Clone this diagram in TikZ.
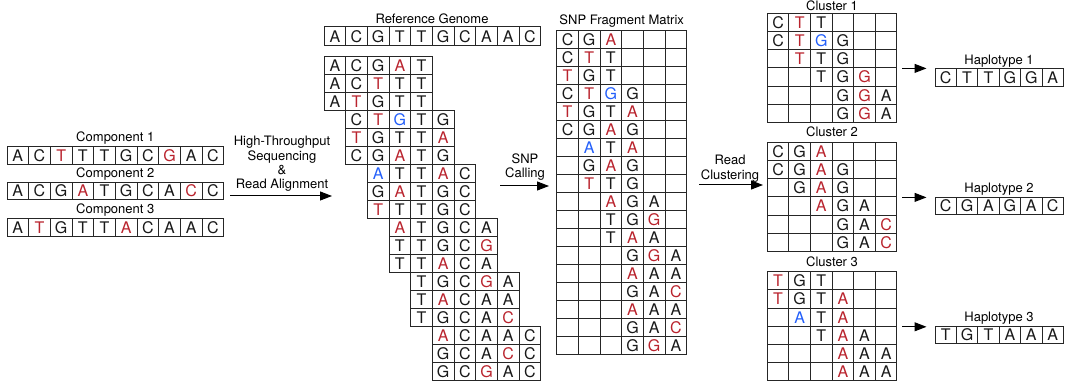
\documentclass[tikz,border=0pt]{standalone}
\usepackage{fontspec}
\setmainfont{TeX Gyre Heros}
\usetikzlibrary{arrows.meta}

\definecolor{nk}{RGB}{25,25,25}
\definecolor{nr}{RGB}{185,35,45}
\definecolor{nb}{RGB}{35,95,250}

% one row of bases: [extra], name, left edge, centre y, cell width, letter/colour list
\newcommand\baserow[6][]{%
  \foreach \ltr/\clr [count=\k] in {#6}
    \node[cell,minimum width=#5pt,#1,text=\clr] (#2-\k) at ({#3+(\k-0.5)*#5},#4) {\ltr};%
}

\begin{document}
\begin{tikzpicture}[x=1pt,y=-1pt,
  cell/.style={draw=black!85,line width=1pt,minimum height=18pt,inner sep=0pt,font=\fontsize{16}{16}\selectfont},
  lbl/.style={font=\fontsize{13}{14.3}\selectfont,inner sep=0pt,text height=9.3pt,text depth=0pt},
  note/.style={font=\fontsize{13}{14.3}\selectfont,inner sep=0pt,align=center},
  arr/.style={line width=1pt,-{Triangle[length=12pt,width=9pt]}}]
  \useasboundingbox (0,0) rectangle (1068,387);

  % components
  \node[lbl] (comp1) at (115.3,137) {Component 1};
  \baserow[minimum height=17.5pt]{c1}{7}{155.3}{21.67}{A/nk,C/nk,T/nr,T/nk,T/nk,G/nk,C/nk,G/nr,A/nk,C/nk}
  \node[lbl] (comp2) at (115.3,173) {Component 2};
  \baserow[minimum height=17.5pt]{c2}{7}{191}{21.67}{A/nk,C/nk,G/nk,A/nr,T/nk,G/nk,C/nk,A/nk,C/nr,C/nk}
  \node[lbl] (comp3) at (115.3,209) {Component 3};
  \baserow[minimum height=17.5pt]{c3}{7}{227.5}{21.67}{A/nk,T/nr,G/nk,T/nk,T/nk,A/nr,C/nk,A/nk,A/nk,C/nk}

  \coordinate (seqA) at (230,196);
  \coordinate (seqB) at (332,196);
  \draw[arr] (seqA) -- (seqB);
  \node[note] (hts) at (282,164) {High-Throughput\\Sequencing\\\&\\Read Alignment};

  % reference and aligned reads
  \node[lbl] (reflbl) at (432,19) {Reference Genome};
  \baserow[minimum height=19pt]{ref}{324}{36.5}{21.67}{A/nk,C/nk,G/nk,T/nk,T/nk,G/nk,C/nk,A/nk,A/nk,C/nk}

  \baserow{r1}{324}{65.7}{21.67}{A/nk,C/nk,G/nk,A/nr,T/nk}
  \baserow{r2}{324}{83.7}{21.67}{A/nk,C/nk,T/nr,T/nk,T/nk}
  \baserow{r3}{324}{101.7}{21.67}{A/nk,T/nr,G/nk,T/nk,T/nk}
  \baserow{r4}{324+21.67}{119.7}{21.67}{C/nk,T/nr,G/nb,T/nk,G/nk}
  \baserow{r5}{324+21.67}{137.7}{21.67}{T/nr,G/nk,T/nk,T/nk,A/nr}
  \baserow{r6}{324+21.67}{155.7}{21.67}{C/nk,G/nk,A/nr,T/nk,G/nk}
  \baserow{r7}{324+2*21.67}{173.7}{21.67}{A/nb,T/nk,T/nk,A/nr,C/nk}
  \baserow{r8}{324+2*21.67}{191.7}{21.67}{G/nk,A/nr,T/nk,G/nk,C/nk}
  \baserow{r9}{324+2*21.67}{209.7}{21.67}{T/nr,T/nk,T/nk,G/nk,C/nk}
  \baserow{r10}{324+3*21.67}{227.7}{21.67}{A/nr,T/nk,G/nk,C/nk,A/nk}
  \baserow{r11}{324+3*21.67}{245.7}{21.67}{T/nk,T/nk,G/nk,C/nk,G/nr}
  \baserow{r12}{324+3*21.67}{263.7}{21.67}{T/nk,T/nk,A/nr,C/nk,A/nk}
  \baserow{r13}{324+4*21.67}{281.7}{21.67}{T/nk,G/nk,C/nk,G/nr,A/nk}
  \baserow{r14}{324+4*21.67}{299.7}{21.67}{T/nk,A/nr,C/nk,A/nk,A/nk}
  \baserow{r15}{324+4*21.67}{317.7}{21.67}{T/nk,G/nk,C/nk,A/nk,C/nr}
  \baserow{r16}{324+5*21.67}{335.7}{21.67}{A/nr,C/nk,A/nk,A/nk,C/nk}
  \baserow{r17}{324+5*21.67}{353.7}{21.67}{G/nk,C/nk,A/nk,C/nr,C/nk}
  \baserow{r18}{324+5*21.67}{371.7}{21.67}{G/nk,C/nk,G/nr,A/nk,C/nk}

  \coordinate (callA) at (500,186);
  \coordinate (callB) at (549,186);
  \draw[arr] (callA) -- (callB);
  \node[note] (call) at (525,167.3) {SNP\\Calling};

  % fragment matrix
  \node[lbl] (snplbl) at (621.7,20) {SNP Fragment Matrix};
  \baserow{s1}{556.7}{39.7}{21.67}{C/nk,G/nk,A/nr,{}/nk,{}/nk,{}/nk}
  \baserow{s2}{556.7}{57.7}{21.67}{C/nk,T/nr,T/nk,{}/nk,{}/nk,{}/nk}
  \baserow{s3}{556.7}{75.7}{21.67}{T/nr,G/nk,T/nk,{}/nk,{}/nk,{}/nk}
  \baserow{s4}{556.7}{93.7}{21.67}{C/nk,T/nr,G/nb,G/nk,{}/nk,{}/nk}
  \baserow{s5}{556.7}{111.7}{21.67}{T/nr,G/nk,T/nk,A/nr,{}/nk,{}/nk}
  \baserow{s6}{556.7}{129.7}{21.67}{C/nk,G/nk,A/nr,G/nk,{}/nk,{}/nk}
  \baserow{s7}{556.7}{147.7}{21.67}{{}/nk,A/nb,T/nk,A/nr,{}/nk,{}/nk}
  \baserow{s8}{556.7}{165.7}{21.67}{{}/nk,G/nk,A/nr,G/nk,{}/nk,{}/nk}
  \baserow{s9}{556.7}{183.7}{21.67}{{}/nk,T/nr,T/nk,G/nk,{}/nk,{}/nk}
  \baserow{s10}{556.7}{201.7}{21.67}{{}/nk,{}/nk,A/nr,G/nk,A/nk,{}/nk}
  \baserow{s11}{556.7}{219.7}{21.67}{{}/nk,{}/nk,T/nk,G/nk,G/nr,{}/nk}
  \baserow{s12}{556.7}{237.7}{21.67}{{}/nk,{}/nk,T/nk,A/nr,A/nk,{}/nk}
  \baserow{s13}{556.7}{255.7}{21.67}{{}/nk,{}/nk,{}/nk,G/nk,G/nr,A/nk}
  \baserow{s14}{556.7}{273.7}{21.67}{{}/nk,{}/nk,{}/nk,A/nr,A/nk,A/nk}
  \baserow{s15}{556.7}{291.7}{21.67}{{}/nk,{}/nk,{}/nk,G/nk,A/nk,C/nr}
  \baserow{s16}{556.7}{309.7}{21.67}{{}/nk,{}/nk,{}/nk,A/nr,A/nk,A/nk}
  \baserow{s17}{556.7}{327.7}{21.67}{{}/nk,{}/nk,{}/nk,G/nk,A/nk,C/nr}
  \baserow{s18}{556.7}{345.7}{21.67}{{}/nk,{}/nk,{}/nk,G/nk,G/nr,A/nk}

  \coordinate (clusA) at (699,185);
  \coordinate (clusB) at (763,185);
  \draw[arr] (clusA) -- (clusB);
  \node[note] (clus) at (730,168.8) {Read\\Clustering};

  % clusters
  \node[lbl] (k1lbl) at (832,5.5) {Cluster 1};
  \baserow[minimum height=18.2pt]{ka1}{767.3}{22.4}{21.6}{C/nk,T/nr,T/nk,{}/nk,{}/nk,{}/nk}
  \baserow[minimum height=18.2pt]{ka2}{767.3}{40.6}{21.6}{C/nk,T/nr,G/nb,G/nk,{}/nk,{}/nk}
  \baserow[minimum height=18.2pt]{ka3}{767.3}{58.8}{21.6}{{}/nk,T/nr,T/nk,G/nk,{}/nk,{}/nk}
  \baserow[minimum height=18.2pt]{ka4}{767.3}{77}{21.6}{{}/nk,{}/nk,T/nk,G/nk,G/nr,{}/nk}
  \baserow[minimum height=18.2pt]{ka5}{767.3}{95.2}{21.6}{{}/nk,{}/nk,{}/nk,G/nk,G/nr,A/nk}
  \baserow[minimum height=18.2pt]{ka6}{767.3}{113.4}{21.6}{{}/nk,{}/nk,{}/nk,G/nk,G/nr,A/nk}

  \node[lbl] (k2lbl) at (832,132.3) {Cluster 2};
  \baserow[minimum height=18.2pt]{kb1}{767.3}{151.4}{21.6}{C/nk,G/nk,A/nr,{}/nk,{}/nk,{}/nk}
  \baserow[minimum height=18.2pt]{kb2}{767.3}{169.6}{21.6}{C/nk,G/nk,A/nr,G/nk,{}/nk,{}/nk}
  \baserow[minimum height=18.2pt]{kb3}{767.3}{187.8}{21.6}{{}/nk,G/nk,A/nr,G/nk,{}/nk,{}/nk}
  \baserow[minimum height=18.2pt]{kb4}{767.3}{206}{21.6}{{}/nk,{}/nk,A/nr,G/nk,A/nk,{}/nk}
  \baserow[minimum height=18.2pt]{kb5}{767.3}{224.2}{21.6}{{}/nk,{}/nk,{}/nk,G/nk,A/nk,C/nr}
  \baserow[minimum height=18.2pt]{kb6}{767.3}{242.4}{21.6}{{}/nk,{}/nk,{}/nk,G/nk,A/nk,C/nr}

  \node[lbl] (k3lbl) at (832,261.7) {Cluster 3};
  \baserow[minimum height=18.2pt]{kc1}{767.3}{280.8}{21.6}{T/nr,G/nk,T/nk,{}/nk,{}/nk,{}/nk}
  \baserow[minimum height=18.2pt]{kc2}{767.3}{299}{21.6}{T/nr,G/nk,T/nk,A/nr,{}/nk,{}/nk}
  \baserow[minimum height=18.2pt]{kc3}{767.3}{317.2}{21.6}{{}/nk,A/nb,T/nk,A/nr,{}/nk,{}/nk}
  \baserow[minimum height=18.2pt]{kc4}{767.3}{335.4}{21.6}{{}/nk,{}/nk,T/nk,A/nr,A/nk,{}/nk}
  \baserow[minimum height=18.2pt]{kc5}{767.3}{353.6}{21.6}{{}/nk,{}/nk,{}/nk,A/nr,A/nk,A/nk}
  \baserow[minimum height=18.2pt]{kc6}{767.3}{371.8}{21.6}{{}/nk,{}/nk,{}/nk,A/nr,A/nk,A/nk}

  % haplotypes
  \node[lbl] (h1lbl) at (999,60) {Haplotype 1};
  \baserow[minimum height=17.3pt]{h1}{935}{77.65}{21.4}{C/nk,T/nk,T/nk,G/nk,G/nk,A/nk}
  \node[lbl] (h2lbl) at (999,187.7) {Haplotype 2};
  \baserow[minimum height=17.3pt]{h2}{935}{206}{21.4}{C/nk,G/nk,A/nk,G/nk,A/nk,C/nk}
  \node[lbl] (h3lbl) at (999,316.7) {Haplotype 3};
  \baserow[minimum height=17.3pt]{h3}{935}{334.7}{21.4}{T/nk,G/nk,T/nk,A/nk,A/nk,A/nk}

  \draw[arr] ([xshift=5pt]ka3-6.south east) -- ([xshift=-8pt]h1-1.west |- ka3-6.south east);
  \draw[arr] ([xshift=5pt]kb3-6.south east) -- ([xshift=-8pt]h2-1.west |- kb3-6.south east);
  \draw[arr] ([xshift=5pt]kc3-6.south east) -- ([xshift=-8pt]h3-1.west |- kc3-6.south east);
\end{tikzpicture}
\end{document}
